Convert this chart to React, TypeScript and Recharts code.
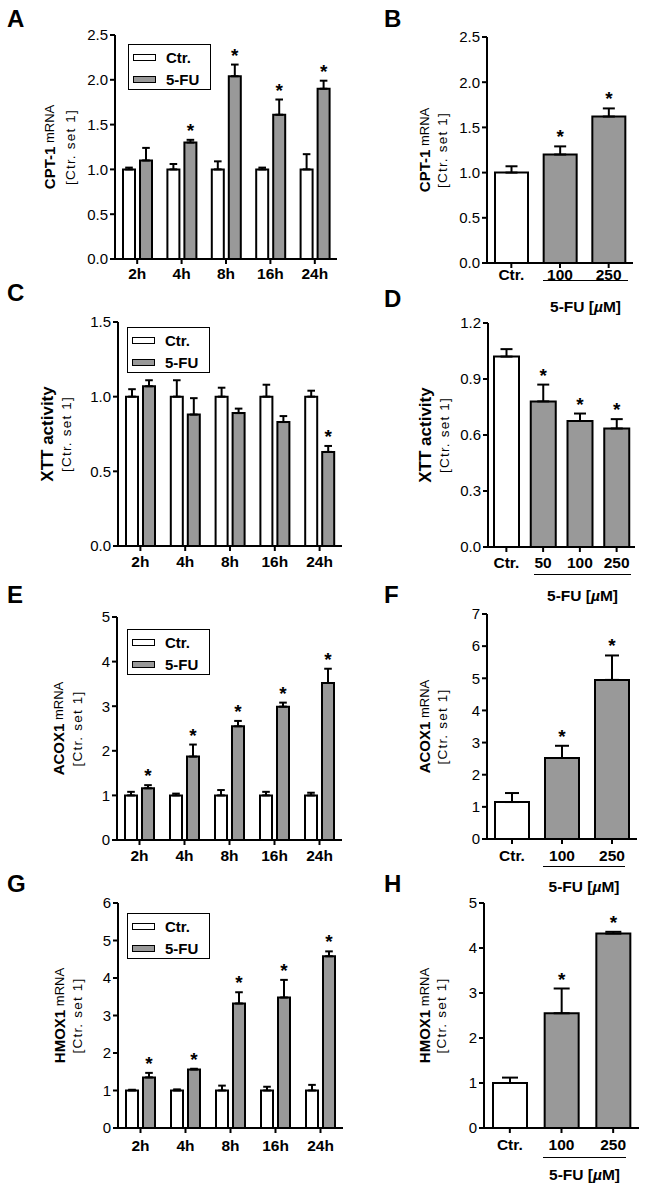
import React from "react";
import { BarChart, Bar, XAxis, YAxis, ErrorBar, LabelList, Cell } from "recharts";

const FONT = "'Liberation Sans', Arial, Helvetica, sans-serif";
const GRAY = "#999999";

// time course categories (A, C, E, G)
const hours = ["2h", "4h", "8h", "16h", "24h"];

// A: CPT-1 mRNA, time course
const cptCtr = [1.0, 1.0, 1.0, 1.0, 1.0];
const cptCtrErr = [0.02, 0.06, 0.09, 0.02, 0.17];
const cptFu = [1.1, 1.3, 2.04, 1.61, 1.9];
const cptFuErr = [0.14, 0.03, 0.13, 0.17, 0.09];
const cptFuSig = [false, true, true, true, true];

// B: CPT-1 mRNA, dose
const doses3 = ["Ctr.", "100", "250"];
const cptDose = [1.0, 1.2, 1.62];
const cptDoseErr = [0.07, 0.09, 0.09];
const cptDoseSig = [false, true, true];

// C: XTT activity, time course
const xttCtr = [1.0, 1.0, 1.0, 1.0, 1.0];
const xttCtrErr = [0.05, 0.11, 0.06, 0.08, 0.04];
const xttFu = [1.07, 0.88, 0.89, 0.83, 0.63];
const xttFuErr = [0.04, 0.11, 0.03, 0.04, 0.04];
const xttFuSig = [false, false, false, false, true];

// D: XTT activity, dose
const doses4 = ["Ctr.", "50", "100", "250"];
const xttDose = [1.02, 0.78, 0.675, 0.635];
const xttDoseErr = [0.04, 0.09, 0.04, 0.05];
const xttDoseSig = [false, true, true, true];

// E: ACOX1 mRNA, time course
const acoxCtr = [1.0, 1.0, 1.0, 1.0, 1.0];
const acoxCtrErr = [0.08, 0.04, 0.12, 0.08, 0.06];
const acoxFu = [1.16, 1.87, 2.55, 2.99, 3.52];
const acoxFuErr = [0.07, 0.27, 0.12, 0.09, 0.32];
const acoxFuSig = [true, true, true, true, true];

// F: ACOX1 mRNA, dose
const acoxDose = [1.15, 2.52, 4.95];
const acoxDoseErr = [0.28, 0.38, 0.76];
const acoxDoseSig = [false, true, true];

// G: HMOX1 mRNA, time course
const hmoxCtr = [1.0, 1.0, 1.0, 1.0, 1.0];
const hmoxCtrErr = [0.02, 0.03, 0.13, 0.1, 0.15];
const hmoxFu = [1.35, 1.56, 3.32, 3.48, 4.58];
const hmoxFuErr = [0.12, 0.02, 0.3, 0.47, 0.13];
const hmoxFuSig = [true, true, true, true, true];

// H: HMOX1 mRNA, dose
const hmoxDose = [1.0, 2.55, 4.32];
const hmoxDoseErr = [0.12, 0.55, 0.04];
const hmoxDoseSig = [false, true, true];

// y ticks
const ticksCpt = [0, 0.5, 1, 1.5, 2, 2.5];
const ticksXttTime = [0, 0.5, 1, 1.5];
const ticksXttDose = [0, 0.3, 0.6, 0.9, 1.2];
const ticks0to5 = [0, 1, 2, 3, 4, 5];
const ticks0to6 = [0, 1, 2, 3, 4, 5, 6];
const ticks0to7 = [0, 1, 2, 3, 4, 5, 6, 7];

const timeRows = (ctr: number[], ctrErr: number[], fu: number[], fuErr: number[], sig: boolean[]) =>
  hours.map((h, i) => ({
    cat: h,
    ctr: ctr[i],
    ctrErr: [0, ctrErr[i]],
    fu: fu[i],
    fuErr: [0, fuErr[i]],
    fuErrVal: fuErr[i],
    sig: sig[i],
  }));

const doseRows = (cats: string[], val: number[], err: number[], sig: boolean[]) =>
  cats.map((c, i) => ({ cat: c, val: val[i], err: [0, err[i]], errVal: err[i], sig: sig[i] }));

// asterisk above the error-bar cap
const starRenderer = (rows: any[], errKey: string) => (props: any) => {
  const { x, y, width, height, index, value } = props;
  const row = rows[index];
  if (!row || !row.sig) return null;
  const capY = Number(y) - (row[errKey] / Number(value)) * Number(height);
  return (
    <text
      x={Number(x) + Number(width) / 2}
      y={capY - 3}
      textAnchor="middle"
      fontSize={19}
      fontWeight="bold"
      fontFamily={FONT}
      fill="#000"
    >
      *
    </text>
  );
};

type YLab = { main: string; small?: string; mainSize: number; x1: number; x2: number };

const yLabelEl = (lab: YLab, cy: number) => () => (
  <g fontFamily={FONT} fill="#000">
    <text
      x={lab.x1}
      y={cy}
      transform={`rotate(-90, ${lab.x1}, ${cy})`}
      textAnchor="middle"
      dominantBaseline="central"
    >
      <tspan fontWeight="bold" fontSize={lab.mainSize}>
        {lab.main}
      </tspan>
      {lab.small && <tspan fontSize={13}>{" " + lab.small}</tspan>}
    </text>
    <text
      x={lab.x2}
      y={cy}
      transform={`rotate(-90, ${lab.x2}, ${cy})`}
      textAnchor="middle"
      dominantBaseline="central"
      fontSize={13.5}
      letterSpacing={1.2}
    >
      [Ctr. set 1]
    </text>
  </g>
);

const axisLine = { stroke: "#000", strokeWidth: 2 };
const frameLine = { stroke: "#000", strokeWidth: 1.6 };
const yTick = { fontSize: 15, fill: "#000", fontFamily: FONT };
const xTick = { fontSize: 15.5, fill: "#000", fontFamily: FONT, fontWeight: "bold" as const };

type PanelBase = {
  chartLeft: number;
  chartWidth: number;
  plot: [number, number, number, number]; // page coords x0, x1, y0, y1
  ticks: number[];
  decimals: number;
  yLabel: YLab;
  tickMargin: number;
};

const Frame = (max: number) => [
  <XAxis
    key="top"
    xAxisId="top"
    dataKey="cat"
    orientation="top"
    height={0}
    tick={false}
    tickLine={false}
    axisLine={frameLine}
  />,
  <YAxis
    key="right"
    yAxisId="right"
    orientation="right"
    width={0}
    domain={[0, max]}
    tick={false}
    tickLine={false}
    axisLine={frameLine}
  />,
];

const TimePanel = ({ rows, p, legend }: { rows: any[]; p: PanelBase; legend: [number, number] }) => {
  const [x0, x1, y0, y1] = p.plot;
  const top = y0 - 12;
  const height = y1 - y0 + 12 + 40;
  const max = p.ticks[p.ticks.length - 1];
  const yW = 60;
  const cy = (y0 + y1) / 2 - top;
  const lab = { ...p.yLabel, x1: p.yLabel.x1 - p.chartLeft, x2: p.yLabel.x2 - p.chartLeft };
  return (
    <>
      <div style={{ position: "absolute", left: p.chartLeft, top }}>
        <BarChart
          width={p.chartWidth}
          height={height}
          data={rows}
          margin={{ top: 12, right: p.chartWidth - (x1 - p.chartLeft), bottom: 10, left: x0 - p.chartLeft - yW }}
          barGap={5}
        >
          <XAxis
            dataKey="cat"
            interval={0}
            height={30}
            tickSize={5}
            tickMargin={p.tickMargin}
            axisLine={axisLine}
            tickLine={axisLine}
            tick={xTick}
          />
          <YAxis
            width={yW}
            domain={[0, max]}
            ticks={p.ticks}
            interval={0}
            tickSize={5}
            tickMargin={2}
            axisLine={axisLine}
            tickLine={axisLine}
            tick={yTick}
            tickFormatter={(v: number) => v.toFixed(p.decimals)}
            label={{ content: yLabelEl(lab, cy) }}
          />
          {Frame(max)}
          <Bar dataKey="ctr" barSize={12} fill="#fff" stroke="#000" strokeWidth={2} isAnimationActive={false}>
            <ErrorBar dataKey="ctrErr" width={3.8} stroke="#000" strokeWidth={2} direction="y" />
          </Bar>
          <Bar dataKey="fu" barSize={12} fill={GRAY} stroke="#000" strokeWidth={2} isAnimationActive={false}>
            <ErrorBar dataKey="fuErr" width={3.8} stroke="#000" strokeWidth={2} direction="y" />
            <LabelList dataKey="fu" content={starRenderer(rows, "fuErrVal")} />
          </Bar>
        </BarChart>
      </div>
      <LegendBox left={legend[0]} top={legend[1]} />
    </>
  );
};

const DosePanel = ({
  rows,
  p,
  barSize,
  capW,
  bracket,
}: {
  rows: any[];
  p: PanelBase;
  barSize: number;
  capW: number;
  bracket: [number, number, number, number];
}) => {
  const [x0, x1, y0, y1] = p.plot;
  const top = y0 - 12;
  const height = y1 - y0 + 12 + 40;
  const max = p.ticks[p.ticks.length - 1];
  const yW = 60;
  const cy = (y0 + y1) / 2 - top;
  const lab = { ...p.yLabel, x1: p.yLabel.x1 - p.chartLeft, x2: p.yLabel.x2 - p.chartLeft };
  const [bx0, bx1, by, ty] = bracket;
  return (
    <>
      <div style={{ position: "absolute", left: p.chartLeft, top }}>
        <BarChart
          width={p.chartWidth}
          height={height}
          data={rows}
          margin={{ top: 12, right: p.chartWidth - (x1 - p.chartLeft), bottom: 10, left: x0 - p.chartLeft - yW }}
        >
          <XAxis
            dataKey="cat"
            interval={0}
            height={30}
            tickSize={5}
            tickMargin={p.tickMargin}
            axisLine={axisLine}
            tickLine={axisLine}
            tick={xTick}
          />
          <YAxis
            width={yW}
            domain={[0, max]}
            ticks={p.ticks}
            interval={0}
            tickSize={5}
            tickMargin={2}
            axisLine={axisLine}
            tickLine={axisLine}
            tick={yTick}
            tickFormatter={(v: number) => v.toFixed(p.decimals)}
            label={{ content: yLabelEl(lab, cy) }}
          />
          {Frame(max)}
          <Bar dataKey="val" barSize={barSize} stroke="#000" strokeWidth={2} isAnimationActive={false}>
            {rows.map((r, i) => (
              <Cell key={r.cat} fill={i === 0 ? "#fff" : GRAY} />
            ))}
            <ErrorBar dataKey="err" width={capW} stroke="#000" strokeWidth={2} direction="y" />
            <LabelList dataKey="val" content={starRenderer(rows, "errVal")} />
          </Bar>
        </BarChart>
      </div>
      <div
        style={{
          position: "absolute",
          left: bx0,
          top: by,
          width: bx1 - bx0,
          borderTop: "1.5px solid #000",
        }}
      />
      <div
        style={{
          position: "absolute",
          left: (bx0 + bx1) / 2 - 60,
          width: 120,
          top: ty,
          textAlign: "center",
          fontFamily: FONT,
          fontWeight: "bold",
          fontSize: 15.5,
          lineHeight: "17px",
          whiteSpace: "nowrap",
        }}
      >
        5-FU [<i>µ</i>M]
      </div>
    </>
  );
};

const LegendBox = ({ left, top }: { left: number; top: number }) => {
  const item = (label: string, fill: string) => (
    <div style={{ display: "flex", alignItems: "center", height: 22 }}>
      <div
        style={{
          width: 21,
          height: 5,
          background: fill,
          border: "1.5px solid #000",
          marginRight: 10,
          marginLeft: 4,
        }}
      />
      <span style={{ fontFamily: FONT, fontWeight: "bold", fontSize: 15 }}>{label}</span>
    </div>
  );
  return (
    <div
      style={{
        position: "absolute",
        left,
        top,
        width: 83,
        height: 46,
        border: "1.5px solid #000",
        background: "#fff",
        padding: "1px 0 0 0",
        boxSizing: "border-box",
      }}
    >
      {item("Ctr.", "#fff")}
      {item("5-FU", GRAY)}
    </div>
  );
};

const Letter = ({ ch, x, y }: { ch: string; x: number; y: number }) => (
  <div
    style={{
      position: "absolute",
      left: x,
      top: y,
      fontFamily: FONT,
      fontWeight: "bold",
      fontSize: 24,
      lineHeight: "24px",
    }}
  >
    {ch}
  </div>
);

const L_LEFT = 0;
const L_W = 360;
const R_LEFT = 375;
const R_W = 273;

export default function App() {
  return (
    <div style={{ position: "absolute", left: 0, top: 0, width: 648, height: 1190, background: "#fff" }}>
      <Letter ch="A" x={7} y={7} />
      <Letter ch="B" x={384} y={7} />
      <Letter ch="C" x={7} y={281} />
      <Letter ch="D" x={384} y={287} />
      <Letter ch="E" x={7} y={583} />
      <Letter ch="F" x={384} y={583} />
      <Letter ch="G" x={7} y={872} />
      <Letter ch="H" x={384} y={872} />

      <TimePanel
        rows={timeRows(cptCtr, cptCtrErr, cptFu, cptFuErr, cptFuSig)}
        legend={[128, 44]}
        p={{
          chartLeft: L_LEFT,
          chartWidth: L_W,
          plot: [115, 337, 35, 259],
          ticks: ticksCpt,
          decimals: 1,
          tickMargin: 4,
          yLabel: { main: "CPT-1", small: "mRNA", mainSize: 15, x1: 49, x2: 70 },
        }}
      />
      <DosePanel
        rows={doseRows(doses3, cptDose, cptDoseErr, cptDoseSig)}
        barSize={33}
        capW={6}
        bracket={[543, 628, 280, 298]}
        p={{
          chartLeft: R_LEFT,
          chartWidth: R_W,
          plot: [487, 633, 37, 263],
          ticks: ticksCpt,
          decimals: 1,
          tickMargin: 1,
          yLabel: { main: "CPT-1", small: "mRNA", mainSize: 15, x1: 424, x2: 442 },
        }}
      />

      <TimePanel
        rows={timeRows(xttCtr, xttCtrErr, xttFu, xttFuErr, xttFuSig)}
        legend={[127, 327]}
        p={{
          chartLeft: L_LEFT,
          chartWidth: L_W,
          plot: [118, 342, 322, 546],
          ticks: ticksXttTime,
          decimals: 1,
          tickMargin: 5,
          yLabel: { main: "XTT activity", mainSize: 17, x1: 47, x2: 66 },
        }}
      />
      <DosePanel
        rows={doseRows(doses4, xttDose, xttDoseErr, xttDoseSig)}
        barSize={25}
        capW={6}
        bracket={[534, 631, 574, 587]}
        p={{
          chartLeft: R_LEFT,
          chartWidth: R_W,
          plot: [488, 635, 323, 547],
          ticks: ticksXttDose,
          decimals: 1,
          tickMargin: 5,
          yLabel: { main: "XTT activity", mainSize: 17, x1: 425, x2: 444 },
        }}
      />

      <TimePanel
        rows={timeRows(acoxCtr, acoxCtrErr, acoxFu, acoxFuErr, acoxFuSig)}
        legend={[127, 629]}
        p={{
          chartLeft: L_LEFT,
          chartWidth: L_W,
          plot: [117, 342, 617, 840],
          ticks: ticks0to5,
          decimals: 0,
          tickMargin: 5,
          yLabel: { main: "ACOX1", small: "mRNA", mainSize: 15, x1: 58, x2: 77 },
        }}
      />
      <DosePanel
        rows={doseRows(doses3, acoxDose, acoxDoseErr, acoxDoseSig)}
        barSize={34}
        capW={7}
        bracket={[543, 625, 866, 878]}
        p={{
          chartLeft: R_LEFT,
          chartWidth: R_W,
          plot: [487, 637, 614, 839],
          ticks: ticks0to7,
          decimals: 0,
          tickMargin: 6,
          yLabel: { main: "ACOX1", small: "mRNA", mainSize: 15, x1: 424, x2: 442 },
        }}
      />

      <TimePanel
        rows={timeRows(hmoxCtr, hmoxCtrErr, hmoxFu, hmoxFuErr, hmoxFuSig)}
        legend={[127, 913]}
        p={{
          chartLeft: L_LEFT,
          chartWidth: L_W,
          plot: [118, 343, 903, 1128],
          ticks: ticks0to6,
          decimals: 0,
          tickMargin: 7,
          yLabel: { main: "HMOX1", small: "mRNA", mainSize: 15, x1: 59, x2: 77 },
        }}
      />
      <DosePanel
        rows={doseRows(doses3, hmoxDose, hmoxDoseErr, hmoxDoseSig)}
        barSize={34}
        capW={8}
        bracket={[543, 626, 1157, 1166]}
        p={{
          chartLeft: R_LEFT,
          chartWidth: R_W,
          plot: [484, 639, 903, 1128],
          ticks: ticks0to5,
          decimals: 0,
          tickMargin: 6,
          yLabel: { main: "HMOX1", small: "mRNA", mainSize: 15, x1: 424, x2: 441 },
        }}
      />
    </div>
  );
}
